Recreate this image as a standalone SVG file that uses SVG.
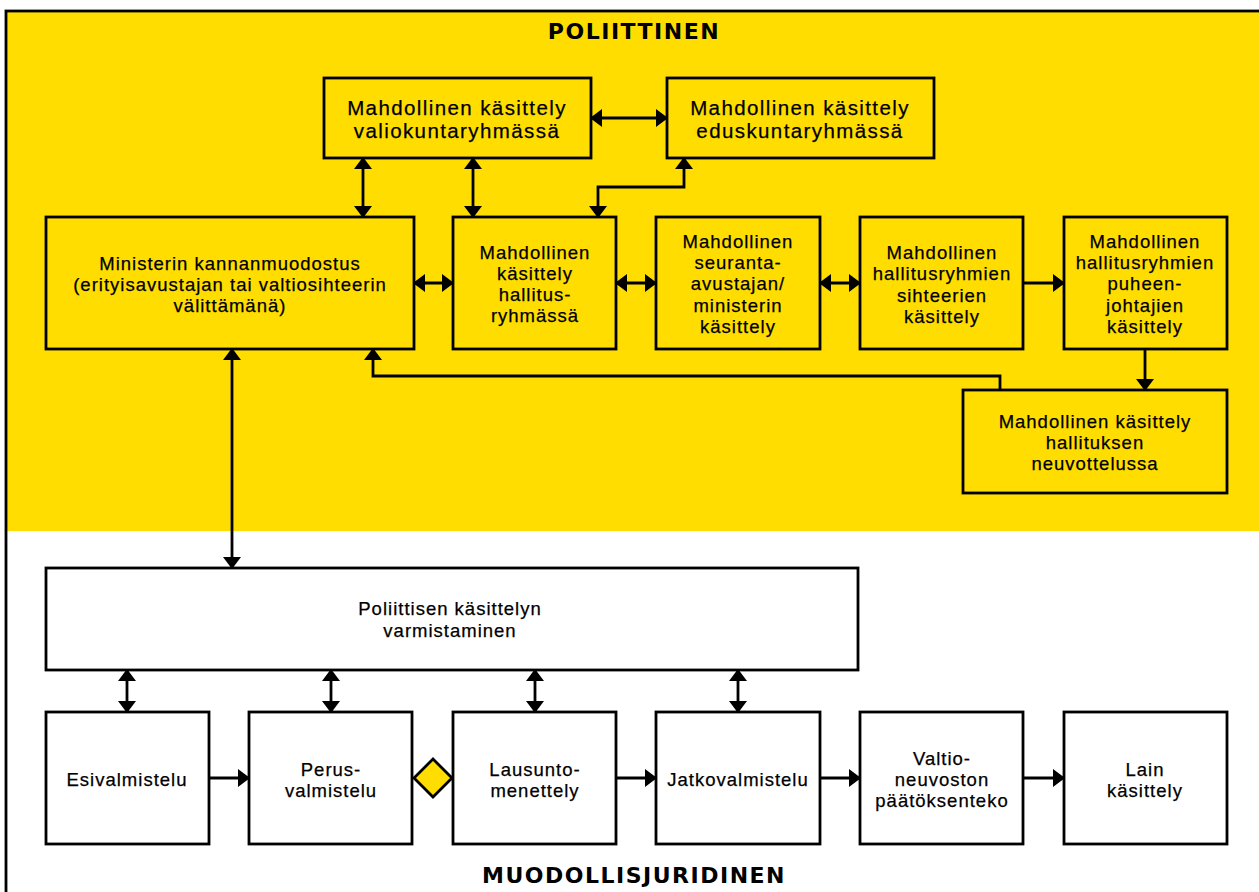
<svg xmlns="http://www.w3.org/2000/svg" width="1259" height="892" viewBox="0 0 1259 892">
<defs>
<marker id="ah" markerUnits="userSpaceOnUse" markerWidth="12" markerHeight="18" refX="11" refY="9" orient="auto-start-reverse">
<path d="M0,0 L12,9 L0,18 z" fill="#000"/>
</marker>
<style>
.box{fill:#FFDD00;stroke:#000;stroke-width:2.8}
.wbox{fill:#fff;stroke:#000;stroke-width:2.8}
.t{font-family:"Liberation Sans",Arial,sans-serif;font-size:18.5px;letter-spacing:1px;fill:#000;text-anchor:middle;stroke:#000;stroke-width:0.25}
.tl{font-size:20.5px;letter-spacing:1.4px}
.h{font-family:"DejaVu Sans","Liberation Sans",sans-serif;font-weight:bold;font-size:22px;letter-spacing:1.5px;fill:#000;text-anchor:middle}
.c{fill:none;stroke:#000;stroke-width:2.8}
.ce{marker-end:url(#ah)}
.cb{marker-start:url(#ah);marker-end:url(#ah)}
</style>
</defs>
<rect x="0" y="0" width="1259" height="892" fill="#fff"/>
<rect id="political-area" x="6" y="11" width="1260" height="520" fill="#FFDD00"/>
<rect id="frame" x="6" y="11" width="1262" height="895" fill="none" stroke="#000" stroke-width="2.8"/>
<text class="h" x="634" y="39">POLIITTINEN</text>
<text class="h" x="634" y="883">MUODOLLISJURIDINEN</text>

<g id="connectors">
<line class="c cb" x1="591" y1="118" x2="667" y2="118"/>
<line class="c cb" x1="363" y1="158" x2="363" y2="217"/>
<line class="c cb" x1="473" y1="158" x2="473" y2="217"/>
<polyline class="c cb" points="684,158 684,187 598,187 598,217"/>
<line class="c cb" x1="414" y1="283" x2="453" y2="283"/>
<line class="c cb" x1="616" y1="283" x2="656" y2="283"/>
<line class="c cb" x1="820" y1="283" x2="860" y2="283"/>
<line class="c ce" x1="1023" y1="283" x2="1064" y2="283"/>
<line class="c ce" x1="1145" y1="349" x2="1145" y2="390"/>
<polyline class="c ce" points="1000,390 1000,376 373,376 373,349"/>
<line class="c cb" x1="232" y1="349" x2="232" y2="568"/>
<line class="c cb" x1="127" y1="670" x2="127" y2="712"/>
<line class="c cb" x1="331" y1="670" x2="331" y2="712"/>
<line class="c cb" x1="535" y1="670" x2="535" y2="712"/>
<line class="c cb" x1="738" y1="670" x2="738" y2="712"/>
<line class="c ce" x1="209" y1="778" x2="249" y2="778"/>
<line class="c ce" x1="616" y1="778" x2="656" y2="778"/>
<line class="c ce" x1="820" y1="778" x2="860" y2="778"/>
<line class="c ce" x1="1023" y1="778" x2="1064" y2="778"/>
<polygon id="decision" points="433,759 452,778 433,797 414,778" fill="#FFDD00" stroke="#000" stroke-width="2.8"/>
</g>

<g id="valiokunta">
<rect class="box" x="324" y="78" width="267" height="80"/>
<text class="t tl" x="457"><tspan x="457" y="115">Mahdollinen käsittely</tspan><tspan x="457" y="138">valiokuntaryhmässä</tspan></text>
</g>
<g id="eduskunta">
<rect class="box" x="667" y="78" width="267" height="80"/>
<text class="t tl" x="800"><tspan x="800" y="115">Mahdollinen käsittely</tspan><tspan x="800" y="138">eduskuntaryhmässä</tspan></text>
</g>
<g id="ministeri">
<rect class="box" x="46" y="217" width="368" height="132"/>
<text class="t" x="230"><tspan x="230" y="270">Ministerin kannanmuodostus</tspan><tspan x="230" y="291">(erityisavustajan tai valtiosihteerin</tspan><tspan x="230" y="312">välittämänä)</tspan></text>
</g>
<g id="hallitusryhma">
<rect class="box" x="453" y="217" width="163" height="132"/>
<text class="t" x="535"><tspan x="535" y="259">Mahdollinen</tspan><tspan x="535" y="280">käsittely</tspan><tspan x="535" y="301">hallitus-</tspan><tspan x="535" y="322">ryhmässä</tspan></text>
</g>
<g id="seuranta">
<rect class="box" x="656" y="217" width="164" height="132"/>
<text class="t" x="738"><tspan x="738" y="248">Mahdollinen</tspan><tspan x="738" y="269">seuranta-</tspan><tspan x="738" y="290">avustajan/</tspan><tspan x="738" y="312">ministerin</tspan><tspan x="738" y="333">käsittely</tspan></text>
</g>
<g id="sihteerit">
<rect class="box" x="860" y="217" width="163" height="132"/>
<text class="t" x="942"><tspan x="942" y="259">Mahdollinen</tspan><tspan x="942" y="280">hallitusryhmien</tspan><tspan x="942" y="302">sihteerien</tspan><tspan x="942" y="323">käsittely</tspan></text>
</g>
<g id="puheenjohtajat">
<rect class="box" x="1064" y="217" width="163" height="132"/>
<text class="t" x="1145"><tspan x="1145" y="248">Mahdollinen</tspan><tspan x="1145" y="269">hallitusryhmien</tspan><tspan x="1145" y="290">puheen-</tspan><tspan x="1145" y="312">johtajien</tspan><tspan x="1145" y="333">käsittely</tspan></text>
</g>
<g id="neuvottelu">
<rect class="box" x="963" y="390" width="264" height="103"/>
<text class="t" x="1095"><tspan x="1095" y="428">Mahdollinen käsittely</tspan><tspan x="1095" y="449">hallituksen</tspan><tspan x="1095" y="470">neuvottelussa</tspan></text>
</g>

<g id="varmistaminen">
<rect class="wbox" x="46" y="568" width="812" height="102"/>
<text class="t" x="450"><tspan x="450" y="615">Poliittisen käsittelyn</tspan><tspan x="450" y="637">varmistaminen</tspan></text>
</g>
<g id="esivalmistelu">
<rect class="wbox" x="46" y="712" width="163" height="132"/>
<text class="t" x="127" y="786">Esivalmistelu</text>
</g>
<g id="perusvalmistelu">
<rect class="wbox" x="249" y="712" width="163" height="132"/>
<text class="t" x="331"><tspan x="331" y="776">Perus-</tspan><tspan x="331" y="797">valmistelu</tspan></text>
</g>
<g id="lausunto">
<rect class="wbox" x="453" y="712" width="163" height="132"/>
<text class="t" x="535"><tspan x="535" y="776">Lausunto-</tspan><tspan x="535" y="797">menettely</tspan></text>
</g>
<g id="jatkovalmistelu">
<rect class="wbox" x="656" y="712" width="164" height="132"/>
<text class="t" x="738" y="786">Jatkovalmistelu</text>
</g>
<g id="paatoksenteko">
<rect class="wbox" x="860" y="712" width="163" height="132"/>
<text class="t" x="942"><tspan x="942" y="765">Valtio-</tspan><tspan x="942" y="786">neuvoston</tspan><tspan x="942" y="807">päätöksenteko</tspan></text>
</g>
<g id="lain-kasittely">
<rect class="wbox" x="1064" y="712" width="163" height="132"/>
<text class="t" x="1145"><tspan x="1145" y="776">Lain</tspan><tspan x="1145" y="797">käsittely</tspan></text>
</g>
</svg>
